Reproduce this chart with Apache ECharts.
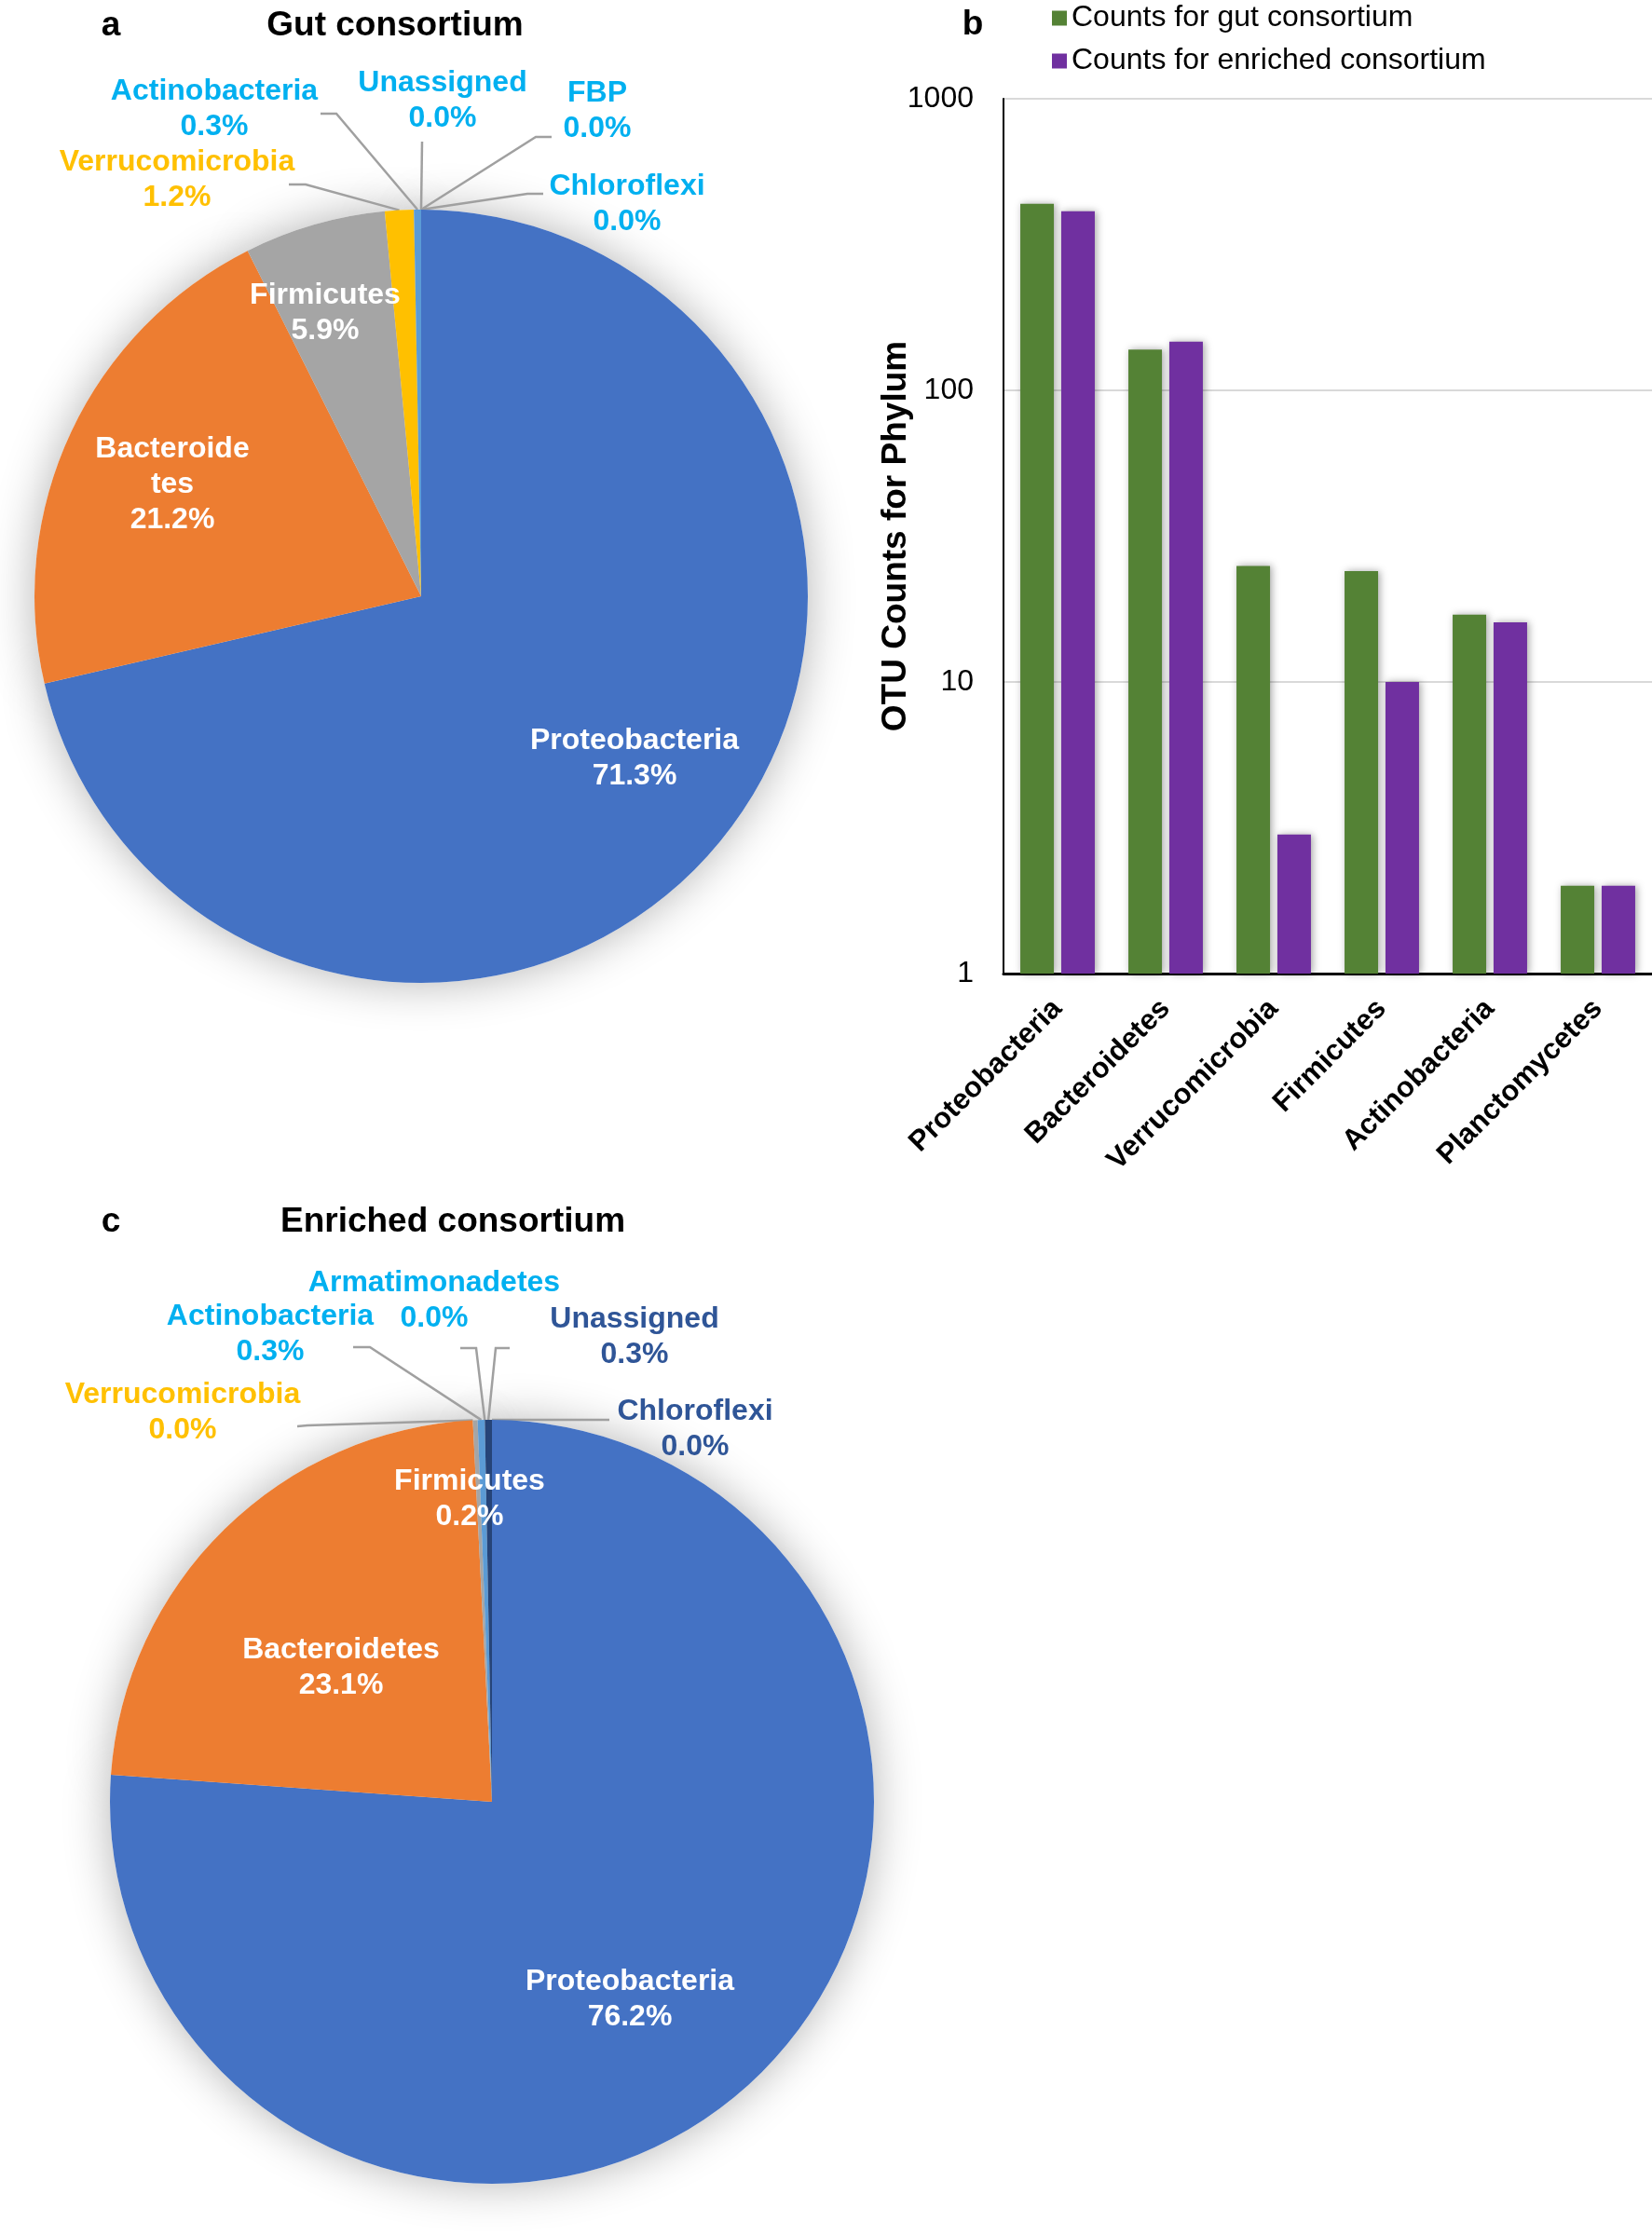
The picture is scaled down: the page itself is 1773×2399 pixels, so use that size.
<!DOCTYPE html>
<html><head><meta charset="utf-8">
<script src="https://cdn.jsdelivr.net/npm/echarts@6/dist/echarts.min.js"></script>
<style>html,body{margin:0;padding:0;background:#fff}#c{width:1773px;height:2399px}</style>
</head><body><div id="c"></div>
<script>
// ---------- data ----------
const phylaBar = ['Proteobacteria','Bacteroidetes','Verrucomicrobia','Firmicutes','Actinobacteria','Planctomycetes'];
const gutCounts = [436, 138, 25, 24, 17, 2];
const enrichedCounts = [411, 147, 3, 10, 16, 2];
const yTicks = [1, 10, 100, 1000];
const seriesNames = ['Counts for gut consortium', 'Counts for enriched consortium'];

const gutNames = ['Proteobacteria','Bacteroidetes','Firmicutes','Verrucomicrobia','Actinobacteria','Unassigned','FBP','Chloroflexi'];
const gutPercent = [71.3, 21.2, 5.9, 1.2, 0.3, 0.0, 0.0, 0.0];
const enrNames = ['Proteobacteria','Bacteroidetes','Verrucomicrobia','Firmicutes','Actinobacteria','Armatimonadetes','Unassigned','Chloroflexi'];
const enrPercent = [76.2, 23.1, 0.0, 0.2, 0.3, 0.0, 0.3, 0.0];

// ---------- styles / layout ----------
const FONT = 'Liberation Sans, Arial, sans-serif';
const sliceColor = {Proteobacteria:'#4472C4', Bacteroidetes:'#ED7D31', Firmicutes:'#A5A5A5', Verrucomicrobia:'#FFC000',
  Actinobacteria:'#5B9BD5', Unassigned:'#264478', FBP:'#9E480E', Chloroflexi:'#636363', Armatimonadetes:'#997300'};
const CYAN = '#00B0F0', GOLD = '#FFC000', NAVY = '#2F5597', WHITE = '#FFFFFF';
const gutLabelColor = {Proteobacteria:WHITE, Bacteroidetes:WHITE, Firmicutes:WHITE, Verrucomicrobia:GOLD,
  Actinobacteria:CYAN, Unassigned:CYAN, FBP:CYAN, Chloroflexi:CYAN};
const enrLabelColor = {Proteobacteria:WHITE, Bacteroidetes:WHITE, Firmicutes:WHITE, Verrucomicrobia:GOLD,
  Actinobacteria:CYAN, Armatimonadetes:CYAN, Unassigned:NAVY, Chloroflexi:NAVY};
const gutSpots = {
  Proteobacteria:{x:681,y:814}, Bacteroidetes:{x:185,y:520}, Firmicutes:{x:349,y:336},
  Verrucomicrobia:{x:190,y:193,line:[[328,198],[310,198]]},
  Actinobacteria:{x:230,y:117,line:[[361,122],[344,122]]},
  Unassigned:{x:475,y:108,line:[[453,152],[453,152]]},
  FBP:{x:641,y:119,line:[[575,147],[592,147]]},
  Chloroflexi:{x:673,y:219,line:[[566,208],[583,208]]}
};
const enrSpots = {
  Proteobacteria:{x:676,y:2146}, Bacteroidetes:{x:366,y:1790}, Firmicutes:{x:504,y:1609},
  Verrucomicrobia:{x:196,y:1516,line:[[330,1530],[319,1531]]},
  Actinobacteria:{x:290,y:1432,line:[[397,1446],[379,1446]]},
  Armatimonadetes:{x:466,y:1396,line:[[511,1447],[494,1447]]},
  Unassigned:{x:681,y:1435,line:[[532,1447],[547,1447]]},
  Chloroflexi:{x:746,y:1534,line:[[640,1524],[654,1524]]}
};

function pieData(names, values, labelColor, spots, wrap) {
  return names.map((n, i) => {
    const inside = !spots[n].line;
    const item = {
      name: n, value: values[i],
      itemStyle: {color: sliceColor[n]},
      label: {color: labelColor[n]},
      labelLine: {show: !inside}
    };
    if (wrap && wrap[n]) { item.label.width = wrap[n]; item.label.overflow = 'breakAll'; }
    return item;
  });
}
function makeLayout(names, spots) {
  return function (p) {
    const s = spots[names[p.dataIndex]];
    const out = {x: s.x, y: s.y, align: 'center', verticalAlign: 'middle'};
    if (s.line && p.labelLinePoints) out.labelLinePoints = [p.labelLinePoints[0], s.line[0], s.line[1]];
    return out;
  };
}
function pieSeries(names, values, labelColor, spots, center, radius, wrap) {
  return [{
    type: 'pie', silent: true, z: 1, center: center, radius: radius, startAngle: 90,
    label: {show: false}, labelLine: {show: false},
    data: names.map((n, i) => ({name: n, value: values[i]})),
    itemStyle: {color: '#fff', shadowBlur: 50, shadowColor: 'rgba(0,0,0,0.3)'}
  }, {
    type: 'pie', z: 2, center: center, radius: radius, startAngle: 90, clockwise: true,
    avoidLabelOverlap: false,
    label: {show: true, position: 'outside', fontFamily: FONT, fontSize: 32, fontWeight: 'bold', lineHeight: 38,
      formatter: p => p.name + '\n' + p.value.toFixed(1) + '%'},
    labelLine: {show: true, length: 10, length2: 10, lineStyle: {color: '#A0A0A0', width: 2.5}},
    labelLayout: makeLayout(names, spots),
    emphasis: {disabled: true},
    data: pieData(names, values, labelColor, spots, wrap)
  }];
}

const barStyle = c => ({color: c, shadowBlur: 8, shadowOffsetX: 2, shadowColor: 'rgba(0,0,0,0.35)'});

const option = {
  animation: false,
  backgroundColor: '#fff',
  textStyle: {fontFamily: FONT},
  grid: {left: 1077, top: 106, width: 696, height: 939, containLabel: false},
  legend: {
    orient: 'vertical', left: 1124, top: -3, itemWidth: 16, itemHeight: 16, itemGap: 11,
    icon: 'rect', data: seriesNames,
    textStyle: {fontSize: 32, color: '#000', fontFamily: FONT, lineHeight: 35}
  },
  xAxis: {
    type: 'category', data: phylaBar,
    axisLine: {lineStyle: {color: '#000', width: 3}}, axisTick: {show: false},
    axisLabel: {rotate: 45, interval: 0, fontSize: 31, fontWeight: 'bold', color: '#000', margin: 33, fontFamily: FONT}
  },
  yAxis: {
    type: 'log', logBase: 10, min: 1, max: 1000,
    axisLine: {show: true, lineStyle: {color: '#000', width: 2}}, axisTick: {show: false},
    splitLine: {lineStyle: {color: '#D9D9D9', width: 2}},
    axisLabel: {fontSize: 32, color: '#000', margin: 32, fontFamily: FONT,
      formatter: v => yTicks.includes(Math.round(v)) ? String(Math.round(v)) : ''},
    name: 'OTU Counts for Phylum', nameLocation: 'middle', nameGap: 97, nameMoveOverlap: false,
    nameTextStyle: {fontSize: 37, fontWeight: 'bold', color: '#000', fontFamily: FONT}
  },
  series: [
    {type: 'bar', name: seriesNames[0], data: gutCounts, barWidth: 36, barGap: '22%', itemStyle: barStyle('#548235')},
    {type: 'bar', name: seriesNames[1], data: enrichedCounts, barWidth: 36, barGap: '22%', itemStyle: barStyle('#7030A0')},
    ...pieSeries(gutNames, gutPercent, gutLabelColor, gutSpots, [452, 640], 415, {Bacteroidetes: 170}),
    ...pieSeries(enrNames, enrPercent, enrLabelColor, enrSpots, [528, 1934], 410, null)
  ],
  graphic: [
    {type: 'text', x: 119, y: 28, style: {text: 'a', font: 'bold 37px ' + FONT, fill: '#000', align: 'center', verticalAlign: 'middle'}},
    {type: 'text', x: 424, y: 28, style: {text: 'Gut consortium', font: 'bold 37px ' + FONT, fill: '#000', align: 'center', verticalAlign: 'middle'}},
    {type: 'text', x: 1044, y: 27, style: {text: 'b', font: 'bold 37px ' + FONT, fill: '#000', align: 'center', verticalAlign: 'middle'}},
    {type: 'text', x: 119, y: 1312, style: {text: 'c', font: 'bold 37px ' + FONT, fill: '#000', align: 'center', verticalAlign: 'middle'}},
    {type: 'text', x: 486, y: 1312, style: {text: 'Enriched consortium', font: 'bold 37px ' + FONT, fill: '#000', align: 'center', verticalAlign: 'middle'}}
  ]
};
const chart = echarts.init(document.getElementById('c'), null, {renderer: 'canvas'});
chart.setOption(option);
</script></body></html>
